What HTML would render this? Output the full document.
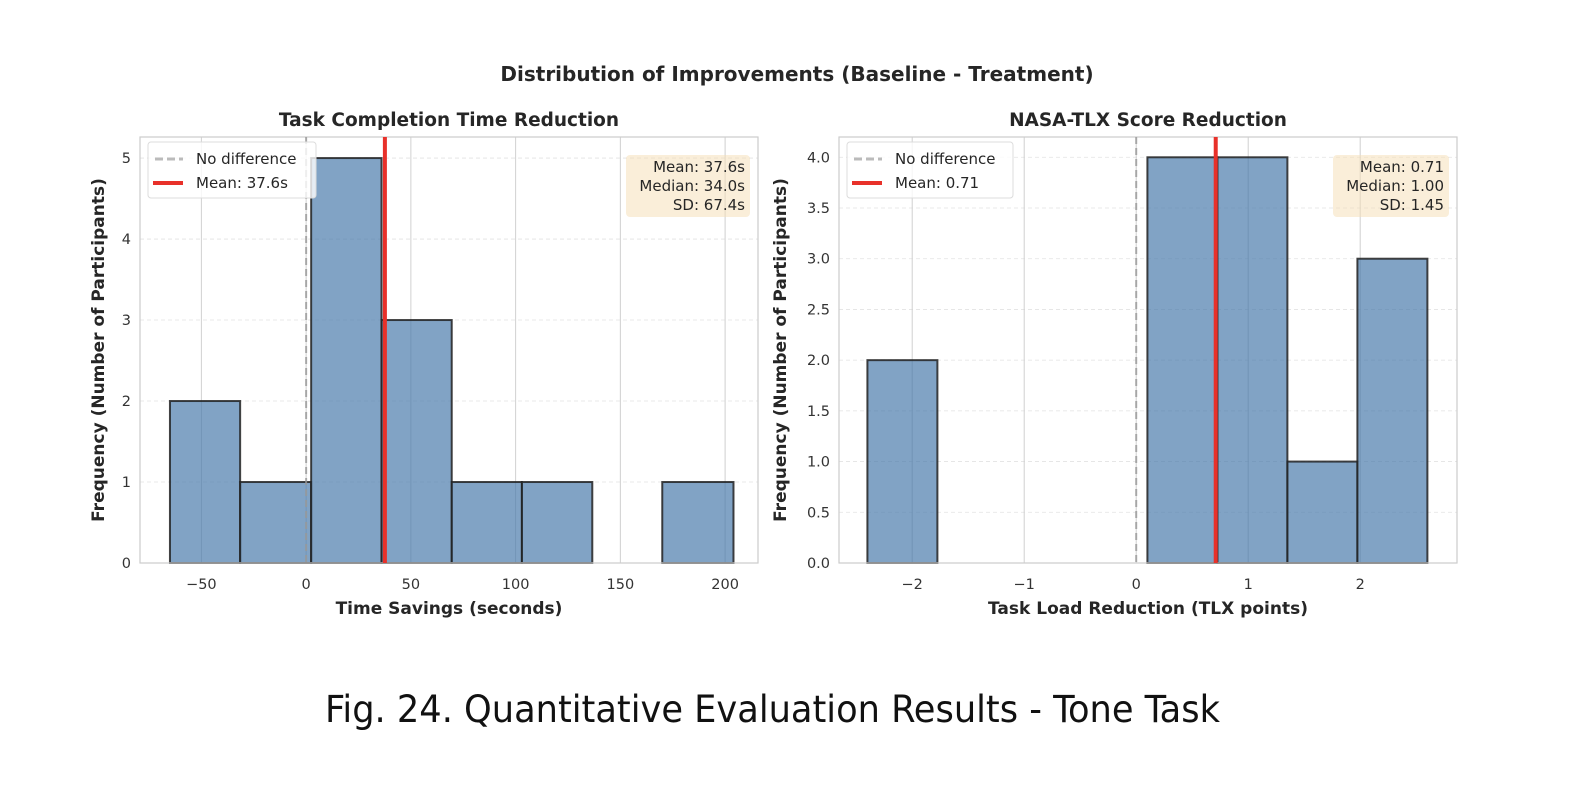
<!DOCTYPE html>
<html><head><meta charset="utf-8"><style>
html,body{margin:0;padding:0;background:#fff;width:1594px;height:796px;overflow:hidden}
svg{display:block}
text{font-family:"DejaVu Sans","Liberation Sans",sans-serif;fill:#262626}
</style></head><body>
<svg id="fig" width="1594" height="796" xmlns="http://www.w3.org/2000/svg">
<text x="797" y="81" text-anchor="middle" font-size="20" font-weight="bold">Distribution of Improvements (Baseline - Treatment)</text>
<text x="325" y="722" font-size="37" textLength="895" lengthAdjust="spacingAndGlyphs" style="font-family:'Liberation Sans Narrow','DejaVu Sans Condensed','Liberation Sans',sans-serif;fill:#111">Fig. 24.  Quantitative Evaluation Results - Tone Task</text>
</svg>
<script>
// Left histogram data
const timeBinEdges = [-65, -31.5, 2.4, 36, 69.5, 103, 136.6, 170, 204];
const timeCounts = [2, 1, 5, 3, 1, 1, 0, 1];
const timeXTicks = [-50, 0, 50, 100, 150, 200];
const timeYTicks = [0, 1, 2, 3, 4, 5];
const timeMean = 37.6;
const timeStats = ["Mean: 37.6s", "Median: 34.0s", "SD: 67.4s"];
// Right histogram data
const tlxBinEdges = [-2.4, -1.775, -1.15, -0.525, 0.1, 0.725, 1.35, 1.975, 2.6];
const tlxCounts = [2, 0, 0, 0, 4, 4, 1, 3];
const tlxXTicks = [-2, -1, 0, 1, 2];
const tlxYTicks = [0, 0.5, 1.0, 1.5, 2.0, 2.5, 3.0, 3.5, 4.0];
const tlxMean = 0.71;
const tlxStats = ["Mean: 0.71", "Median: 1.00", "SD: 1.45"];

const NS = "http://www.w3.org/2000/svg";
const svg = document.getElementById('fig');
function mk(tag, attrs, parent, txt){
  const e = document.createElementNS(NS, tag);
  for (const k in attrs) e.setAttribute(k, attrs[k]);
  if (txt !== undefined) e.textContent = txt;
  (parent || svg).appendChild(e);
  return e;
}
function panel(o){
  const g = mk('g', {});
  
  
  const L=o.left, R=o.right, T=137, B=563;
  const xs = v => L + (v - o.xmin) / (o.xmax - o.xmin) * (R - L);
  const ys = v => B - v / o.ymax * (B - T);
  o.yticks.forEach(v => {
    const gl = mk('line', {x1:L, x2:R, y1:ys(v), y2:ys(v), stroke:'#e2e2e2', 'stroke-width':0.8, 'stroke-dasharray':'4,3'}, g);
    
    
    const t = mk('text', {x:L-9, y:ys(v)+5, 'text-anchor':'end', 'font-size':14.5, style:'fill:#333'}, g, o.yfmt(v));
    
    
  });
  o.xticks.forEach(v => {
    const gl = mk('line', {x1:xs(v), x2:xs(v), y1:T, y2:B, stroke:'#d0d0d0', 'stroke-width':1}, g);
    
    
    const t = mk('text', {x:xs(v), y:B+26, 'text-anchor':'middle', 'font-size':14.5, style:'fill:#333'}, g, v < 0 ? '\u2212' + Math.abs(v) : String(v));
    
    
  });
  o.counts.forEach((c, i) => {
    const x0 = xs(o.edges[i]), x1 = xs(o.edges[i+1]);
    const b = mk('rect', {x:x0, y:ys(c), width:x1-x0, height:B-ys(c), fill:'rgba(70,120,170,0.68)', stroke:'#222', 'stroke-width':2, 'stroke-opacity':0.85}, g);
    
    
  });
  const fr = mk('rect', {x:L, y:T, width:R-L, height:B-T, fill:'none', stroke:'#cccccc', 'stroke-width':1.2}, g);
  
  
  const z = mk('line', {x1:xs(0), x2:xs(0), y1:T, y2:B, stroke:'#999', 'stroke-width':2, 'stroke-dasharray':'7,4', opacity:0.8}, g);
  
  
  const m = mk('line', {x1:xs(o.mean), x2:xs(o.mean), y1:T, y2:B, stroke:'#e8312a', 'stroke-width':4}, g);
  
  
  const lg = mk('g', {}, g);
  
  
  mk('rect', {x:L+8, y:T+5, width:o.legW, height:56, rx:3, fill:'rgba(255,255,255,0.8)', stroke:'#dcdcdc'}, lg);
  mk('line', {x1:L+15, x2:L+43, y1:T+22, y2:T+22, stroke:'#bbb', 'stroke-width':3, 'stroke-dasharray':'8,4'}, lg);
  const le1 = mk('text', {x:L+56, y:T+27, 'font-size':15}, lg, 'No difference');
  
  
  mk('line', {x1:L+13, x2:L+43, y1:T+46, y2:T+46, stroke:'#e8312a', 'stroke-width':4}, lg);
  const le2 = mk('text', {x:L+56, y:T+51, 'font-size':15}, lg, o.meanLabel);
  
  
  const sb = mk('g', {}, g);
  
  
  mk('rect', {x:R-o.statW-8, y:T+18, width:o.statW, height:62, rx:4, fill:'rgba(245,222,179,0.5)'}, sb);
  o.stats.forEach((s, i) => {
    const t = mk('text', {x:R-13, y:T+35+i*19, 'text-anchor':'end', 'font-size':15}, sb, s);
    
    
  });
  const tt = mk('text', {x:(L+R)/2, y:126, 'text-anchor':'middle', 'font-size':18.5, 'font-weight':'bold'}, g, o.title);
  
  
  const xl = mk('text', {x:(L+R)/2, y:614, 'text-anchor':'middle', 'font-size':17, 'font-weight':'bold'}, g, o.xlabel);
  
  
  const yl = mk('text', {x:0, y:0, 'text-anchor':'middle', 'font-size':17, 'font-weight':'bold', transform:'translate('+o.ylx+',350) rotate(-90)'}, g, 'Frequency (Number of Participants)');
  
  
}
panel({name:'time-reduction-panel', left:140, right:758, xmin:-79.3, xmax:215.7, ymax:5.26,
  edges:timeBinEdges, counts:timeCounts, xticks:timeXTicks, yticks:timeYTicks, yfmt:v=>String(v),
  mean:timeMean, stats:timeStats, meanLabel:'Mean: 37.6s', legW:168, statW:124,
  title:'Task Completion Time Reduction', xlabel:'Time Savings (seconds)', ylx:104});
panel({name:'tlx-reduction-panel', left:839, right:1457, xmin:-2.6536, xmax:2.8643, ymax:4.2,
  edges:tlxBinEdges, counts:tlxCounts, xticks:tlxXTicks, yticks:tlxYTicks, yfmt:v=>v.toFixed(1),
  mean:tlxMean, stats:tlxStats, meanLabel:'Mean: 0.71', legW:166, statW:116,
  title:'NASA-TLX Score Reduction', xlabel:'Task Load Reduction (TLX points)', ylx:786});
</script>
</body></html>
